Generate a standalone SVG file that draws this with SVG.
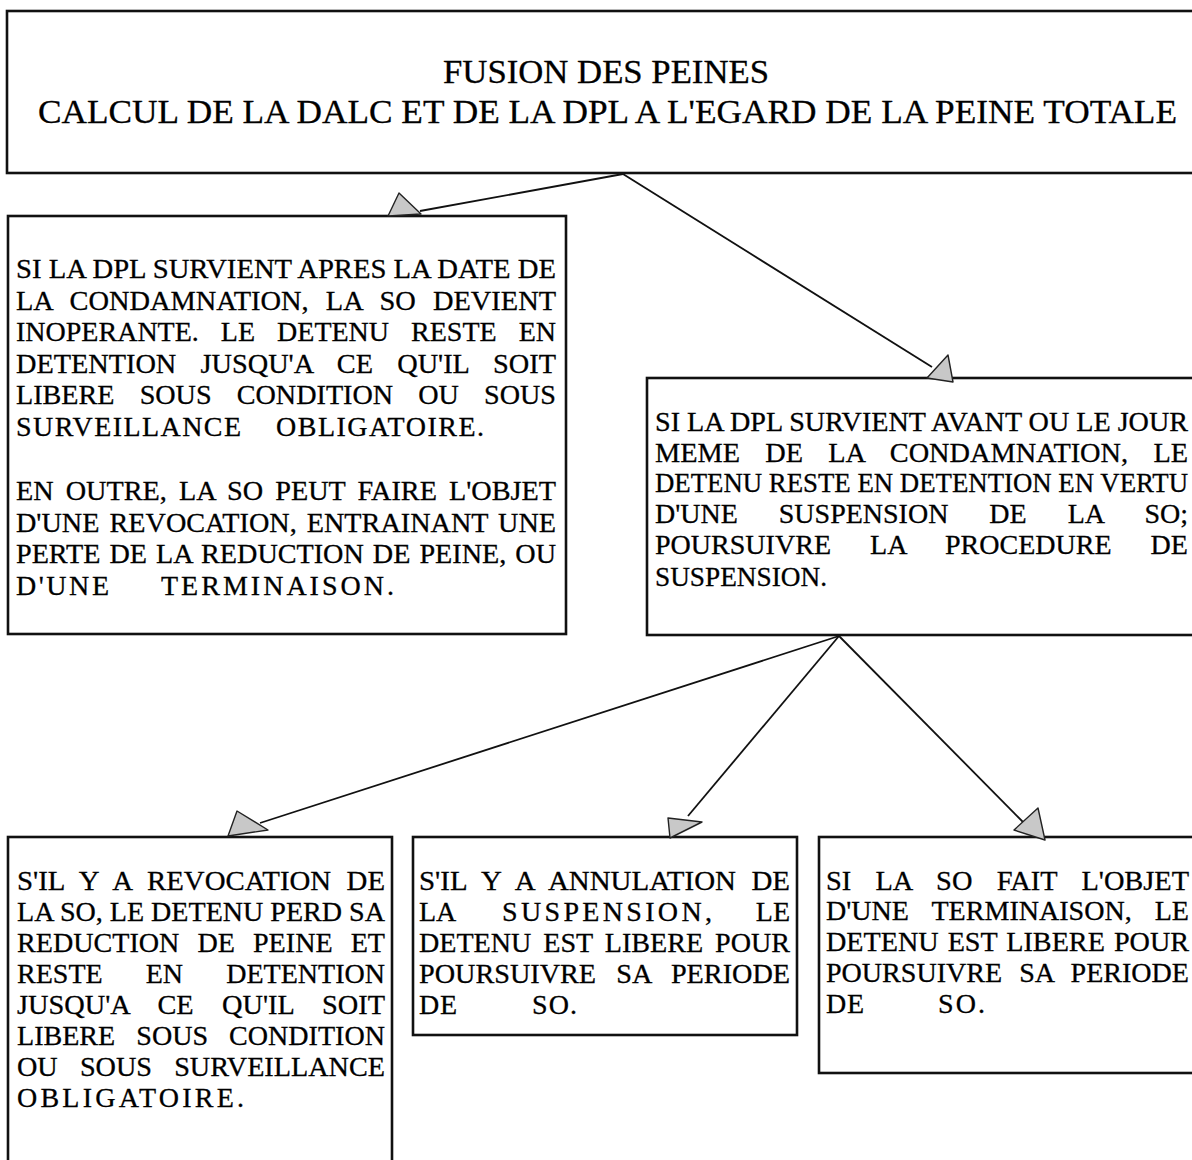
<svg xmlns="http://www.w3.org/2000/svg" width="1192" height="1160" viewBox="0 0 1192 1160">
<style>
.box{fill:#fff;stroke:#111;stroke-width:2.6}
.c{stroke:#111;stroke-width:1.8;fill:none}
.ah{fill:#c8c8c8;stroke:#222;stroke-width:1.4;stroke-linejoin:round}
</style>
<rect width="1192" height="1160" fill="#fff"/>
<g id="connectors">
<line class="c" x1="623" y1="174" x2="420" y2="211"/>
<line class="c" x1="623" y1="174" x2="932" y2="367"/>
<line class="c" x1="839" y1="636" x2="260" y2="823"/>
<line class="c" x1="839" y1="636" x2="688" y2="816"/>
<line class="c" x1="839" y1="636" x2="1024" y2="823"/>
</g>
<g id="node-title">
<rect class="box" x="7" y="11" width="1215" height="162"/>
<g font-family="'Liberation Serif', 'Times New Roman', 'DejaVu Serif', serif" font-size="34" fill="#000" stroke="#000" stroke-width="0.3">
<text x="443" y="83" textLength="326" lengthAdjust="spacingAndGlyphs">FUSION DES PEINES</text>
<text x="38" y="123" textLength="1139" lengthAdjust="spacingAndGlyphs">CALCUL DE LA DALC ET DE LA DPL A L'EGARD DE LA PEINE TOTALE</text>
</g>
</g>
<g id="node-apres">
<rect class="box" x="8" y="216" width="558" height="418"/>
<g font-family="'Liberation Serif', 'Times New Roman', 'DejaVu Serif', serif" font-size="28" fill="#000" stroke="#000" stroke-width="0.3">
<text x="16" y="278" textLength="540" lengthAdjust="spacingAndGlyphs">SI LA DPL SURVIENT APRES LA DATE DE</text>
<text x="16" y="310" word-spacing="10" textLength="540" lengthAdjust="spacingAndGlyphs">LA CONDAMNATION, LA SO DEVIENT</text>
<text x="16" y="341" word-spacing="15" textLength="540" lengthAdjust="spacingAndGlyphs">INOPERANTE. LE DETENU RESTE EN</text>
<text x="16" y="373" word-spacing="17" textLength="540" lengthAdjust="spacingAndGlyphs">DETENTION JUSQU'A CE QU'IL SOIT</text>
<text x="16" y="404" word-spacing="18" textLength="540" lengthAdjust="spacingAndGlyphs">LIBERE SOUS CONDITION OU SOUS</text>
<text x="16" y="436" textLength="225" lengthAdjust="spacing">SURVEILLANCE</text>
<text x="276" y="436" textLength="208" lengthAdjust="spacing">OBLIGATOIRE.</text>
<text x="16" y="500" word-spacing="5" textLength="540" lengthAdjust="spacingAndGlyphs">EN OUTRE, LA SO PEUT FAIRE L'OBJET</text>
<text x="16" y="532" word-spacing="3" textLength="540" lengthAdjust="spacingAndGlyphs">D'UNE REVOCATION, ENTRAINANT UNE</text>
<text x="16" y="563" word-spacing="2" textLength="540" lengthAdjust="spacingAndGlyphs">PERTE DE LA REDUCTION DE PEINE, OU</text>
<text x="16" y="595" textLength="93" lengthAdjust="spacing">D'UNE</text>
<text x="161" y="595" textLength="233" lengthAdjust="spacing">TERMINAISON.</text>
</g>
<polygon class="ah" points="399,193 388,216 421,214"/>
</g>
<g id="node-avant">
<rect class="box" x="647" y="378" width="570" height="257"/>
<g font-family="'Liberation Serif', 'Times New Roman', 'DejaVu Serif', serif" font-size="28" fill="#000" stroke="#000" stroke-width="0.3">
<text x="655" y="431" font-size="27.3" textLength="533" lengthAdjust="spacingAndGlyphs">SI LA DPL SURVIENT AVANT OU LE JOUR</text>
<text x="655" y="462" word-spacing="18" textLength="533" lengthAdjust="spacingAndGlyphs">MEME DE LA CONDAMNATION, LE</text>
<text x="655" y="492" font-size="26.6" textLength="533" lengthAdjust="spacingAndGlyphs">DETENU RESTE EN DETENTION EN VERTU</text>
<text x="655" y="523" word-spacing="34" textLength="533" lengthAdjust="spacingAndGlyphs">D'UNE SUSPENSION DE LA SO;</text>
<text x="655" y="554" word-spacing="32" textLength="533" lengthAdjust="spacingAndGlyphs">POURSUIVRE LA PROCEDURE DE</text>
<text x="655" y="586" textLength="172" lengthAdjust="spacingAndGlyphs">SUSPENSION.</text>
</g>
<polygon class="ah" points="948,355 927,378 953,382"/>
</g>
<g id="node-revocation">
<rect class="box" x="8" y="837" width="384" height="400"/>
<g font-family="'Liberation Serif', 'Times New Roman', 'DejaVu Serif', serif" font-size="28" fill="#000" stroke="#000" stroke-width="0.3">
<text x="17" y="890" word-spacing="8" textLength="368" lengthAdjust="spacingAndGlyphs">S'IL Y A REVOCATION DE</text>
<text x="17" y="921" textLength="368" lengthAdjust="spacingAndGlyphs">LA SO, LE DETENU PERD SA</text>
<text x="17" y="952" word-spacing="11" textLength="368" lengthAdjust="spacingAndGlyphs">REDUCTION DE PEINE ET</text>
<text x="17" y="983" word-spacing="36" textLength="368" lengthAdjust="spacingAndGlyphs">RESTE EN DETENTION</text>
<text x="17" y="1014" word-spacing="21" textLength="368" lengthAdjust="spacingAndGlyphs">JUSQU'A CE QU'IL SOIT</text>
<text x="17" y="1045" word-spacing="14" textLength="368" lengthAdjust="spacingAndGlyphs">LIBERE SOUS CONDITION</text>
<text x="17" y="1076" word-spacing="15" textLength="368" lengthAdjust="spacingAndGlyphs">OU SOUS SURVEILLANCE</text>
<text x="17" y="1107" textLength="227" lengthAdjust="spacing">OBLIGATOIRE.</text>
</g>
<polygon class="ah" points="237,811 228,836 268,830"/>
</g>
<g id="node-annulation">
<rect class="box" x="413" y="837" width="384" height="198"/>
<g font-family="'Liberation Serif', 'Times New Roman', 'DejaVu Serif', serif" font-size="28" fill="#000" stroke="#000" stroke-width="0.3">
<text x="419" y="890" word-spacing="8" textLength="371" lengthAdjust="spacingAndGlyphs">S'IL Y A ANNULATION DE</text>
<text x="419" y="921">LA</text>
<text x="502" y="921" textLength="210" lengthAdjust="spacing">SUSPENSION,</text>
<text x="790" y="921" text-anchor="end">LE</text>
<text x="419" y="952" word-spacing="5" textLength="371" lengthAdjust="spacingAndGlyphs">DETENU EST LIBERE POUR</text>
<text x="419" y="983" word-spacing="13" textLength="371" lengthAdjust="spacingAndGlyphs">POURSUIVRE SA PERIODE</text>
<text x="419" y="1014" textLength="38" lengthAdjust="spacing">DE</text>
<text x="532" y="1014" textLength="45" lengthAdjust="spacing">SO.</text>
</g>
<polygon class="ah" points="668,818 702,822 670,838"/>
</g>
<g id="node-terminaison">
<rect class="box" x="819" y="837" width="400" height="236"/>
<g font-family="'Liberation Serif', 'Times New Roman', 'DejaVu Serif', serif" font-size="28" fill="#000" stroke="#000" stroke-width="0.3">
<text x="826" y="890" word-spacing="17" textLength="363" lengthAdjust="spacingAndGlyphs">SI LA SO FAIT L'OBJET</text>
<text x="826" y="920" word-spacing="16" textLength="363" lengthAdjust="spacingAndGlyphs">D'UNE TERMINAISON, LE</text>
<text x="826" y="951" word-spacing="2" textLength="363" lengthAdjust="spacingAndGlyphs">DETENU EST LIBERE POUR</text>
<text x="826" y="982" word-spacing="10" textLength="363" lengthAdjust="spacingAndGlyphs">POURSUIVRE SA PERIODE</text>
<text x="826" y="1013" textLength="38" lengthAdjust="spacing">DE</text>
<text x="938" y="1013" textLength="47" lengthAdjust="spacing">SO.</text>
</g>
<polygon class="ah" points="1038,808 1014,830 1045,840"/>
</g>
</svg>
